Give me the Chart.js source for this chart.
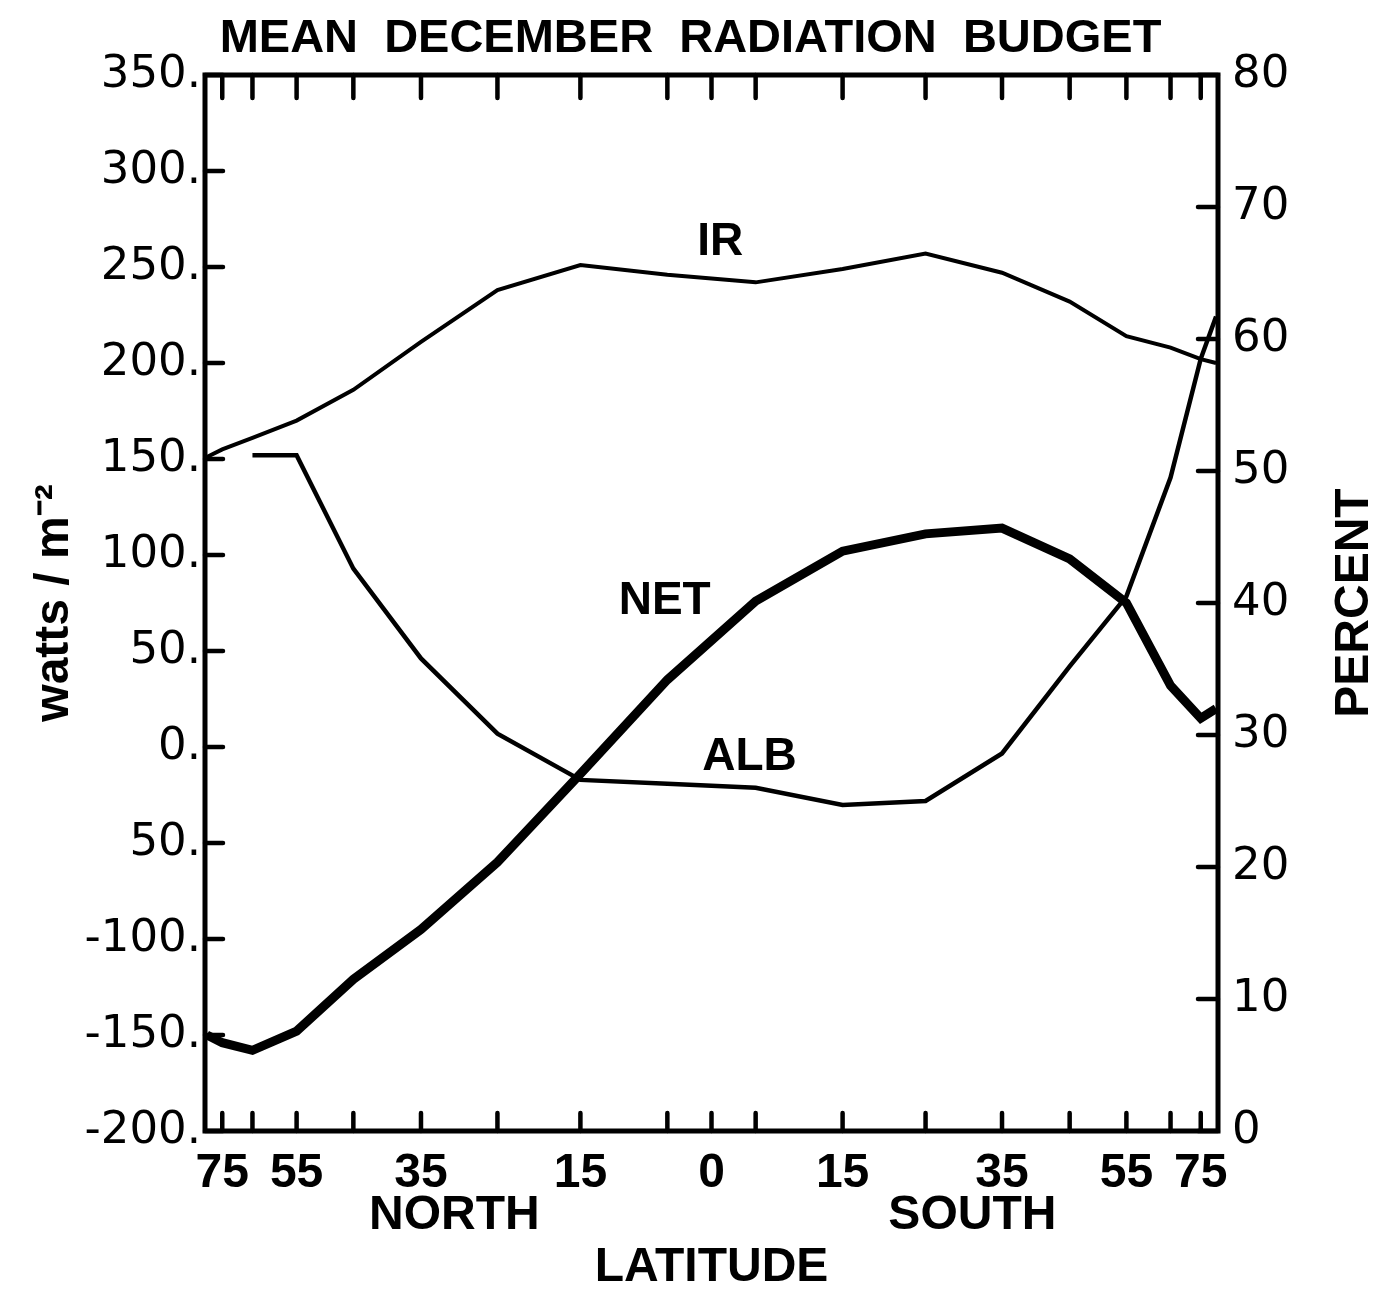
<!DOCTYPE html>
<html>
<head>
<meta charset="utf-8">
<script src="https://cdn.jsdelivr.net/npm/chart.js@4.4.1/dist/chart.umd.min.js"></script>
<style>
  html, body { margin: 0; padding: 0; background: #fff; }
  #wrap { width: 1381px; height: 1292px; }
</style>
</head>
<body>
<div id="wrap"><canvas id="chart" width="1381" height="1292"></canvas></div>
<script>
// band centres, north positive
const latitudes = [85, 75, 65, 55, 45, 35, 25, 15, 5, -5, -15, -25, -35, -45, -55, -65, -75, -85];
const irWatts   = [151, 155, 161, 170, 186, 211, 238, 251, 246, 242, 249, 257, 247, 232, 214, 208, 202, 200];
const netWatts  = [-150, -154, -158, -148, -121, -95, -60, -14, 35, 76, 102, 111, 114, 98, 75, 32, 15, 20];
const albPercent = [null, null, 51.2, 51.2, 42.6, 35.8, 30.1, 26.6, 26.3, 26.0, 24.7, 25.0, 28.6, 35.2, 40.5, 49.5, 58.5, 61.7];

const xTickLats = [75, 65, 55, 45, 35, 25, 15, 5, 0, -5, -15, -25, -35, -45, -55, -65, -75];
const xLabelLats = [75, 55, 35, 15, 0, -15, -35, -55, -75];
const leftTicks = [350, 300, 250, 200, 150, 100, 50, 0, -50, -100, -150, -200];
const leftLabels = ['350.', '300.', '250.', '200.', '150.', '100.', '50.', '0.', '50.', '-100.', '-150.', '-200.'];

const narrow = "'Liberation Sans Narrow', 'Liberation Sans', sans-serif";
const rounded = "'DejaVu Sans', sans-serif";

// x axis is linear in sin(latitude), i.e. equal area
class SineLatScale extends Chart.LinearScale {
  getPixelForValue(value) {
    if (value === null || value === undefined) return NaN;
    const s = Math.sin(value * Math.PI / 180);
    return this.getPixelForDecimal((s + 1) / 2);
  }
  getValueForPixel(pixel) {
    const d = this.getDecimalForPixel(pixel);
    return Math.asin(d * 2 - 1) * 180 / Math.PI;
  }
}
SineLatScale.id = 'sinelat';
SineLatScale.defaults = Chart.LinearScale.defaults;
Chart.register(SineLatScale);

function pts(values) {
  return latitudes.map((lat, i) => ({ x: lat, y: values[i] }));
}

const frame = {
  id: 'frame',
  afterDatasetsDraw(chart) {
    const { ctx, chartArea: a, scales } = chart;
    ctx.save();
    ctx.strokeStyle = '#000';
    ctx.lineCap = 'round';
    ctx.lineWidth = 4.5;
    ctx.beginPath();
    xTickLats.forEach(lat => {
      const px = scales.x.getPixelForValue(lat);
      ctx.moveTo(px, a.top); ctx.lineTo(px, a.top + 23);
      ctx.moveTo(px, a.bottom); ctx.lineTo(px, a.bottom - 18);
    });
    leftTicks.forEach(v => {
      const py = scales.y.getPixelForValue(v);
      ctx.moveTo(a.left, py); ctx.lineTo(a.left + 18, py);
    });
    scales.y1.ticks.forEach(t => {
      const py = scales.y1.getPixelForValue(t.value);
      ctx.moveTo(a.right, py); ctx.lineTo(a.right - 20, py);
    });
    ctx.stroke();
    ctx.lineWidth = 5;
    ctx.strokeRect(a.left, a.top, a.right - a.left, a.bottom - a.top);

    // curve names and hemisphere words, placed in data coordinates
    ctx.fillStyle = '#000';
    ctx.textAlign = 'center';
    ctx.textBaseline = 'middle';
    ctx.font = 'bold 46px ' + narrow;
    const put = (txt, lat, v, axis) => ctx.fillText(txt, scales.x.getPixelForValue(lat), scales[axis].getPixelForValue(v));
    put('IR', -1, 263, 'y');
    put('NET', 5.3, 76, 'y');
    put('ALB', -4.3, 28.3, 'y1');
    ctx.font = 'bold 48px ' + narrow;
    const wordY = a.bottom + 85;
    ctx.fillText('NORTH', scales.x.getPixelForValue(30.5), wordY);
    ctx.fillText('SOUTH', scales.x.getPixelForValue(-31), wordY);

    // right axis title reads bottom to top
    ctx.translate(1355, scales.y1.getPixelForValue(40));
    ctx.rotate(-Math.PI / 2);
    ctx.font = 'bold 48px ' + narrow;
    ctx.fillText('PERCENT', 0, 0);
    ctx.restore();
  }
};

new Chart(document.getElementById('chart'), {
  type: 'line',
  data: {
    datasets: [
      { label: 'IR', data: pts(irWatts), yAxisID: 'y', borderColor: '#000', borderWidth: 4, pointRadius: 0, tension: 0 },
      { label: 'NET', data: pts(netWatts), yAxisID: 'y', borderColor: '#000', borderWidth: 9, pointRadius: 0, tension: 0 },
      { label: 'ALB', data: pts(albPercent), yAxisID: 'y1', borderColor: '#000', borderWidth: 4.5, pointRadius: 0, tension: 0 }
    ]
  },
  options: {
    responsive: false,
    animation: false,
    layout: { padding: 0 },
    plugins: {
      legend: { display: false },
      tooltip: { enabled: false },
      title: {
        display: true,
        text: 'MEAN  DECEMBER  RADIATION  BUDGET',
        color: '#000',
        font: { family: narrow, size: 47, weight: 'bold', lineHeight: 1 },
        padding: { top: 16, bottom: 12 }
      }
    },
    scales: {
      x: {
        type: 'sinelat',
        position: 'bottom',
        min: -90, max: 90,
        reverse: true,
        grid: { display: false, drawTicks: false },
        border: { display: false },
        afterBuildTicks: s => { s.ticks = xLabelLats.map(v => ({ value: v })); },
        afterFit: s => { s.height = 161; },
        ticks: {
          autoSkip: false, maxRotation: 0, padding: 14, color: '#000',
          font: { family: narrow, size: 48, weight: 'bold' },
          callback: v => String(Math.abs(v))
        },
        title: {
          display: true, text: 'LATITUDE', color: '#000',
          font: { family: narrow, size: 48, weight: 'bold', lineHeight: 1 },
          padding: { top: 0, bottom: 0 }
        }
      },
      y: {
        position: 'left',
        min: -200, max: 350,
        grid: { display: false, drawTicks: false },
        border: { display: false },
        afterBuildTicks: s => { s.ticks = leftTicks.map(v => ({ value: v })); },
        afterFit: s => { s.width = 205; },
        ticks: {
          padding: 4, color: '#000',
          font: { family: rounded, size: 45 },
          callback: (v, i) => leftLabels[leftTicks.indexOf(v)]
        },
        title: {
          display: true, text: 'watts / m⁻²', color: '#000',
          font: { family: narrow, size: 48, weight: 'bold', lineHeight: 1 },
          padding: { top: 31, bottom: 0 }
        }
      },
      y1: {
        position: 'right',
        min: 0, max: 80,
        grid: { display: false, drawTicks: false },
        border: { display: false },
        afterFit: s => { s.width = 163; },
        ticks: {
          stepSize: 10, padding: 14, color: '#000',
          font: { family: rounded, size: 45 },
          callback: v => String(v)
        }
      }
    }
  },
  plugins: [frame]
});
</script>
</body>
</html>
